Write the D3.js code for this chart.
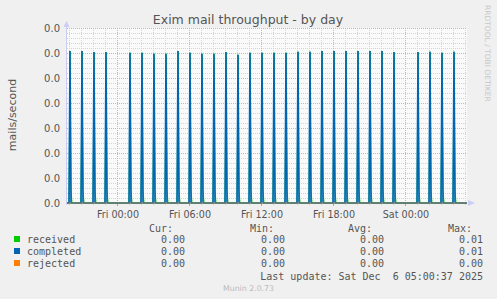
<!DOCTYPE html>
<html><head><meta charset="utf-8">
<script src="https://cdn.jsdelivr.net/npm/d3@7"></script>
<style>
html,body{margin:0;padding:0;background:#f0f0f0;}
svg{display:block;}
text{font-family:"DejaVu Sans",sans-serif;fill:#555;}
.mono{font-family:"DejaVu Sans Mono",monospace;}
</style></head>
<body>
<script>
// ---- data ----
const seriesNames = ["received", "completed", "rejected"];
const seriesColors = ["#00cc00", "#0066b3", "#ff8000"];
// hourly spikes starting Thu 4 Dec 2025 20:00 (mails/second), null = no spike
const completedPeaks = [0.01216,0.01216,0.01208,0.01208,null,0.01202,0.01202,0.01194,0.01194,0.01216,
  0.01202,0.01194,0.01194,0.01208,0.01186,0.01202,0.01202,0.01202,0.01202,0.01210,
  0.01210,0.01216,0.01216,0.01216,0.01216,0.01216,0.01216,0.01208,null,0.01208,
  0.01210,0.01202,0.01210];
const receivedPeaks = completedPeaks.slice();
const receivedTail = 0.0011;   // small value in the 5-min sample after each received spike
const rejectedValue = 0;
const yTickLabels = ["0.0","0.0","0.0","0.0","0.0","0.0","0.0","0.0"];
const yTickValues = [0,0.002,0.004,0.006,0.008,0.010,0.012,0.014];
const xTickLabels = ["Fri 00:00","Fri 06:00","Fri 12:00","Fri 18:00","Sat 00:00"];
const legendCur = ["0.00","0.00","0.00"];
const legendMin = ["0.00","0.00","0.00"];
const legendAvg = ["0.00","0.00","0.00"];
const legendMax = ["0.01","0.01","0.00"];
const lastUpdate = "Last update: Sat Dec  6 05:00:37 2025";

// ---- layout ----
const W = 497, H = 299;
const L = 67, R = 467, T = 28, B = 203;
const firstHour = new Date(2025, 11, 4, 20, 0, 0);
const tStart = new Date(2025, 11, 4, 19, 47, 30);
const tEnd = new Date(tStart.getTime() + 400 * 300 * 1000);

const svg = d3.select("body").append("svg").attr("width", W).attr("height", H);
svg.append("rect").attr("width", W).attr("height", H).attr("fill", "#f0f0f0");

const x = d3.scaleTime().domain([tStart, tEnd]).range([L, R]);
const y = d3.scaleLinear().domain([0, 0.014]).range([B, T]);

svg.append("rect").attr("x", L).attr("y", T).attr("width", R - L).attr("height", B - T).attr("fill", "#fafafa");

// grid
const g = svg.append("g");
const minorY = d3.range(0, 0.01401, 0.0004);
g.selectAll(".hmin").data(minorY).join("line")
  .attr("x1", L).attr("x2", R).attr("y1", d => Math.round(y(d)) + 0.5).attr("y2", d => Math.round(y(d)) + 0.5)
  .attr("stroke", "#d4d4d4").attr("stroke-dasharray", "1,1");
const hoursTicks = x.ticks(d3.timeHour.every(1));
g.selectAll(".vmin").data(hoursTicks).join("line")
  .attr("x1", d => Math.floor(x(d)) + 0.5).attr("x2", d => Math.floor(x(d)) + 0.5).attr("y1", T).attr("y2", B)
  .attr("stroke", "#d4d4d4").attr("stroke-dasharray", "1,1");
g.selectAll(".hmaj").data(yTickValues).join("line")
  .attr("x1", L).attr("x2", R).attr("y1", d => Math.round(y(d)) + 0.5).attr("y2", d => Math.round(y(d)) + 0.5)
  .attr("stroke", "#e8a8a8").attr("stroke-dasharray", "1,1");
const majorX = x.ticks(d3.timeHour.every(6));
g.selectAll(".vmaj").data(majorX).join("line")
  .attr("x1", d => Math.floor(x(d)) + 0.5).attr("x2", d => Math.floor(x(d)) + 0.5).attr("y1", T).attr("y2", B)
  .attr("stroke", "#e8a8a8").attr("stroke-dasharray", "1,1");

// axes ticks/labels
const yAxis = d3.axisLeft(y).tickValues(yTickValues).tickSize(0).tickPadding(7)
  .tickFormat((d, i) => yTickLabels[i]);
const ya = svg.append("g").attr("transform", `translate(${L},0)`).call(yAxis);
ya.select(".domain").remove();
ya.selectAll("text").attr("font-size", 10).attr("font-family", "DejaVu Sans").attr("fill", "#555");

const xAxis = d3.axisBottom(x).tickValues(majorX).tickSize(0).tickPadding(8)
  .tickFormat((d, i) => xTickLabels[i]);
const xa = svg.append("g").attr("transform", `translate(0,${B})`).call(xAxis);
xa.select(".domain").remove();
xa.selectAll("text").attr("font-size", 9.6).attr("font-family", "DejaVu Sans").attr("fill", "#555");

// small ticks under axis
svg.selectAll(".tmin").data(hoursTicks).join("line")
  .attr("x1", d => Math.floor(x(d)) + 0.5).attr("x2", d => Math.floor(x(d)) + 0.5).attr("y1", B).attr("y2", B + 2)
  .attr("stroke", "#c8c8f0");
svg.selectAll(".tmaj").data(majorX).join("line")
  .attr("x1", d => Math.floor(x(d)) + 0.5).attr("x2", d => Math.floor(x(d)) + 0.5).attr("y1", B).attr("y2", B + 3)
  .attr("stroke", "#e89090");

// series
const five = 300 * 1000;
function spikePoints(peaks, tail) {
  const pts = [[tStart, 0]];
  peaks.forEach((v, i) => {
    if (v == null) return;
    const h = d3.timeHour.offset(firstHour, i).getTime();
    pts.push([new Date(h - five / 2), 0]);
    pts.push([new Date(h + five / 2), v]);
    if (tail != null) {
      pts.push([new Date(h + five * 1.5), tail]);
      pts.push([new Date(h + five * 2.5), 0]);
    } else {
      pts.push([new Date(h + five * 1.5), 0]);
    }
  });
  pts.push([tEnd, 0]);
  return pts;
}
const line = d3.line().x(d => x(d[0])).y(d => y(d[1]));
const plot = svg.append("g");
plot.append("path").datum(spikePoints(receivedPeaks, receivedTail)).attr("d", line)
  .attr("fill", "none").attr("stroke", seriesColors[0]).attr("stroke-width", 1);
plot.append("path").datum(spikePoints(completedPeaks, null)).attr("d", line)
  .attr("fill", "none").attr("stroke", seriesColors[1]).attr("stroke-width", 1.6);
plot.append("path").datum([[tStart, rejectedValue], [tEnd, rejectedValue]]).attr("d", line)
  .attr("fill", "none").attr("stroke", seriesColors[2]).attr("stroke-width", 1).attr("opacity", 0.6);

// axis lines and arrows
svg.append("line").attr("x1", L - 0.5).attr("x2", L - 0.5).attr("y1", B + 2).attr("y2", T - 5)
  .attr("stroke", "#ccccf4");
svg.append("path").attr("d", `M${L - 3.5},${T - 1}L${L + 2.5},${T - 1}L${L - 0.5},${T - 7}Z`).attr("fill", "#ccccf4");
svg.append("path").attr("d", `M${R + 1},${B - 3}L${R + 1},${B + 3}L${R + 8},${B}Z`).attr("fill", "#ccccf4");

// title
svg.append("text").attr("x", 248).attr("y", 24).attr("text-anchor", "middle")
  .attr("font-size", 12.5).text("Exim mail throughput - by day");
svg.append("text").attr("transform", "translate(15.5,115) rotate(-90)").attr("text-anchor", "middle")
  .attr("font-size", 11).text("mails/second");
svg.append("text").attr("transform", "translate(485,5) rotate(90)").attr("text-anchor", "start")
  .attr("font-size", 7.5).style("fill", "#c8c8c8").text("RRDTOOL / TOBI OETIKER");

// legend
const leg = svg.append("g").attr("class", "mono");
const hdr = [["Cur:", 149], ["Min:", 250], ["Avg:", 348], ["Max:", 448]];
hdr.forEach(([t, xx]) => leg.append("text").attr("class", "mono").attr("x", xx).attr("y", 232)
  .attr("font-size", 10).text(t));
const cols = [[legendCur, 185], [legendMin, 285], [legendAvg, 384], [legendMax, 483]];
seriesNames.forEach((n, i) => {
  const yy = 243 + i * 12;
  leg.append("rect").attr("x", 14).attr("y", yy - 7).attr("width", 6).attr("height", 6).attr("fill", seriesColors[i]);
  leg.append("text").attr("class", "mono").attr("x", 27).attr("y", yy).attr("font-size", 10).text(n);
  cols.forEach(([arr, xx]) => leg.append("text").attr("class", "mono").attr("x", xx).attr("y", yy)
    .attr("text-anchor", "end").attr("font-size", 10).text(arr[i]));
});
leg.append("text").attr("class", "mono").attr("x", 483).attr("y", 280).attr("text-anchor", "end")
  .attr("font-size", 10).style("white-space", "pre").attr("xml:space", "preserve").text(lastUpdate);
svg.append("text").attr("x", 248.5).attr("y", 291).attr("text-anchor", "middle").attr("font-size", 7.8)
  .style("fill", "#bbbbbb").text("Munin 2.0.73");
</script>
</body></html>
